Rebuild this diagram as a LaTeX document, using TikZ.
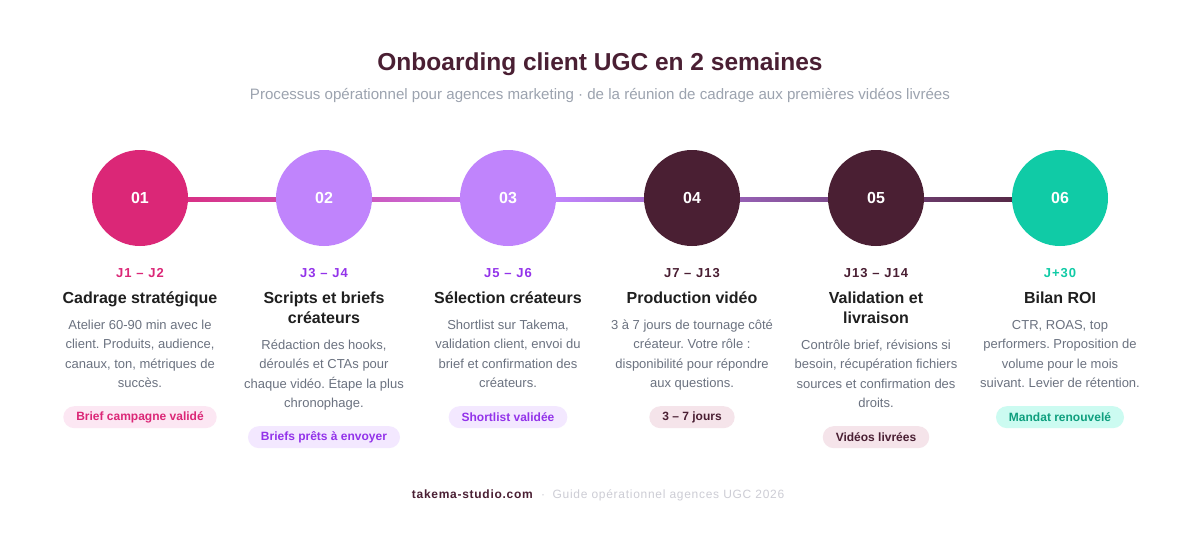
\documentclass[tikz,border=0pt]{standalone}
\usepackage{fontspec}
\setmainfont{Liberation Sans}
\usetikzlibrary{positioning, calc}
\frenchspacing

\definecolor{rose}{HTML}{DB2777}
\definecolor{lilas}{HTML}{C084FC}
\definecolor{violet}{HTML}{9333EA}
\definecolor{prune}{HTML}{4A1F33}
\definecolor{menthe}{HTML}{10CBA6}
\definecolor{menthefonce}{HTML}{0E9F7E}
\definecolor{encre}{HTML}{1F1F1F}
\definecolor{gris}{HTML}{6B7280}
\definecolor{grisclair}{HTML}{9CA3AF}
\definecolor{grispale}{HTML}{CDCDD5}
\definecolor{fondrose}{HTML}{FCE7F3}
\definecolor{fondlilas}{HTML}{F3E8FF}
\definecolor{fondprune}{HTML}{F5E4EA}
\definecolor{fondmenthe}{HTML}{CCFBF1}

\begin{document}
\begin{tikzpicture}[
    x=1pt, y=-1pt,
    etape/.style={circle, minimum size=96pt, inner sep=0pt, text=white, font=\fontsize{16}{19}\selectfont\bfseries},
    jours/.style={inner sep=0pt, anchor=base, font=\fontsize{13}{15.6}\selectfont\bfseries\addfontfeatures{LetterSpace=8}, execute at begin node=\strut},
    titre/.style={inner sep=0pt, align=center, text=encre, font=\fontsize{16}{20}\selectfont\bfseries, execute at end node=\strut},
    texte/.style={inner sep=0pt, align=center, text=gris, font=\fontsize{13}{19.5}\selectfont, execute at end node=\strut},
    badge/.style={rounded corners=11pt, minimum height=22pt, inner xsep=13pt, inner ysep=0pt, font=\fontsize{12}{14}\selectfont\bfseries},
    pied/.style={inner sep=0pt, font=\fontsize{12}{14}\selectfont\addfontfeatures{LetterSpace=6}},
    piedgras/.style={inner sep=0pt, font=\fontsize{12}{14}\selectfont\bfseries\addfontfeatures{LetterSpace=6}}
]

    % --- Fond et cadre ---
    \fill[white] (0,0) rectangle (1200,547);
    \useasboundingbox (0,0) rectangle (1200,547);

    % --- En-tête ---
    \node[font=\fontsize{24.5}{29}\selectfont\bfseries, text=prune, anchor=base] (entete) at (600,70.8) {Onboarding client UGC en 2 semaines};
    \node[font=\fontsize{15.1}{18}\selectfont, text=grisclair, anchor=base] (soustitre) at (600,99.4) {Processus opérationnel pour agences marketing · de la réunion de cadrage aux premières vidéos livrées};

    % --- Étapes (cercles) ---
    \node[etape, fill=rose] (e1) at (140,198) {01};
    \node[etape, fill=lilas] (e2) at (324,198) {02};
    \node[etape, fill=lilas] (e3) at (508,198) {03};
    \node[etape, fill=prune] (e4) at (692,198) {04};
    \node[etape, fill=prune] (e5) at (876,198) {05};
    \node[etape, fill=menthe] (e6) at (1060,198) {06};

    % --- Liaisons (dégradé) ---
    \shade[left color=rose!89!lilas, right color=rose!68!lilas] ($(e1.east)+(0,-0.5)$) rectangle ($(e2.west)+(0,3.5)$);
    \shade[left color=rose!45!lilas, right color=rose!24!lilas] ($(e2.east)+(0,-0.5)$) rectangle ($(e3.west)+(0,3.5)$);
    \shade[left color=lilas, right color=prune!17!lilas] ($(e3.east)+(0,-0.5)$) rectangle ($(e4.west)+(0,3.5)$);
    \shade[left color=prune!36!lilas, right color=prune!54!lilas] ($(e4.east)+(0,-0.5)$) rectangle ($(e5.west)+(0,3.5)$);
    \shade[left color=prune!73!lilas, right color=prune!90!lilas] ($(e5.east)+(0,-0.5)$) rectangle ($(e6.west)+(0,3.5)$);

    % --- Colonne 1 ---
    \node[jours, text=rose] (j1) at (140,277.7) {J1 – J2};
    \node[titre, below=6.3pt of j1] (t1) {\strut Cadrage stratégique};
    \node[texte, below=6.3pt of t1] (d1) {\strut Atelier 60-90 min avec le\\client. Produits, audience,\\canaux, ton, métriques de\\succès.};
    \node[badge, fill=fondrose, text=rose, below=12pt of d1] (b1) {Brief campagne validé};

    % --- Colonne 2 ---
    \node[jours, text=violet] (j2) at (324,277.7) {J3 – J4};
    \node[titre, below=6.3pt of j2] (t2) {\strut Scripts et briefs\\créateurs};
    \node[texte, below=6.3pt of t2] (d2) {\strut Rédaction des hooks,\\déroulés et CTAs pour\\chaque vidéo. Étape la plus\\chronophage.};
    \node[badge, fill=fondlilas, text=violet, below=12pt of d2] (b2) {Briefs prêts à envoyer};

    % --- Colonne 3 ---
    \node[jours, text=violet] (j3) at (508,277.7) {J5 – J6};
    \node[titre, below=6.3pt of j3] (t3) {\strut Sélection créateurs};
    \node[texte, below=6.3pt of t3] (d3) {\strut Shortlist sur Takema,\\validation client, envoi du\\brief et confirmation des\\créateurs.};
    \node[badge, fill=fondlilas, text=violet, below=12pt of d3] (b3) {Shortlist validée};

    % --- Colonne 4 ---
    \node[jours, text=prune] (j4) at (692,277.7) {J7 – J13};
    \node[titre, below=6.3pt of j4] (t4) {\strut Production vidéo};
    \node[texte, below=6.3pt of t4] (d4) {\strut 3 à 7 jours de tournage côté\\créateur. Votre rôle :\\disponibilité pour répondre\\aux questions.};
    \node[badge, fill=fondprune, text=prune, below=12pt of d4] (b4) {3 – 7 jours};

    % --- Colonne 5 ---
    \node[jours, text=prune] (j5) at (876,277.7) {J13 – J14};
    \node[titre, below=6.3pt of j5] (t5) {\strut Validation et\\livraison};
    \node[texte, below=6.3pt of t5] (d5) {\strut Contrôle brief, révisions si\\besoin, récupération fichiers\\sources et confirmation des\\droits.};
    \node[badge, fill=fondprune, text=prune, below=12pt of d5] (b5) {Vidéos livrées};

    % --- Colonne 6 ---
    \node[jours, text=menthe] (j6) at (1060,277.7) {J+30};
    \node[titre, below=6.3pt of j6] (t6) {\strut Bilan ROI};
    \node[texte, below=6.3pt of t6] (d6) {\strut CTR, ROAS, top\\performers. Proposition de\\volume pour le mois\\suivant. Levier de rétention.};
    \node[badge, fill=fondmenthe, text=menthefonce, below=12pt of d6] (b6) {Mandat renouvelé};

    % --- Pied de page ---
    \node[piedgras, text=prune, anchor=base east] (site) at (533,498) {takema-studio.com};
    \node[pied, text=grispale, anchor=base west] (point) at ($(site.base east)+(8,0)$) {·};
    \node[pied, text=grispale, anchor=base west] (guide) at ($(point.base east)+(7,0)$) {Guide opérationnel agences UGC 2026};

\end{tikzpicture}
\end{document}
